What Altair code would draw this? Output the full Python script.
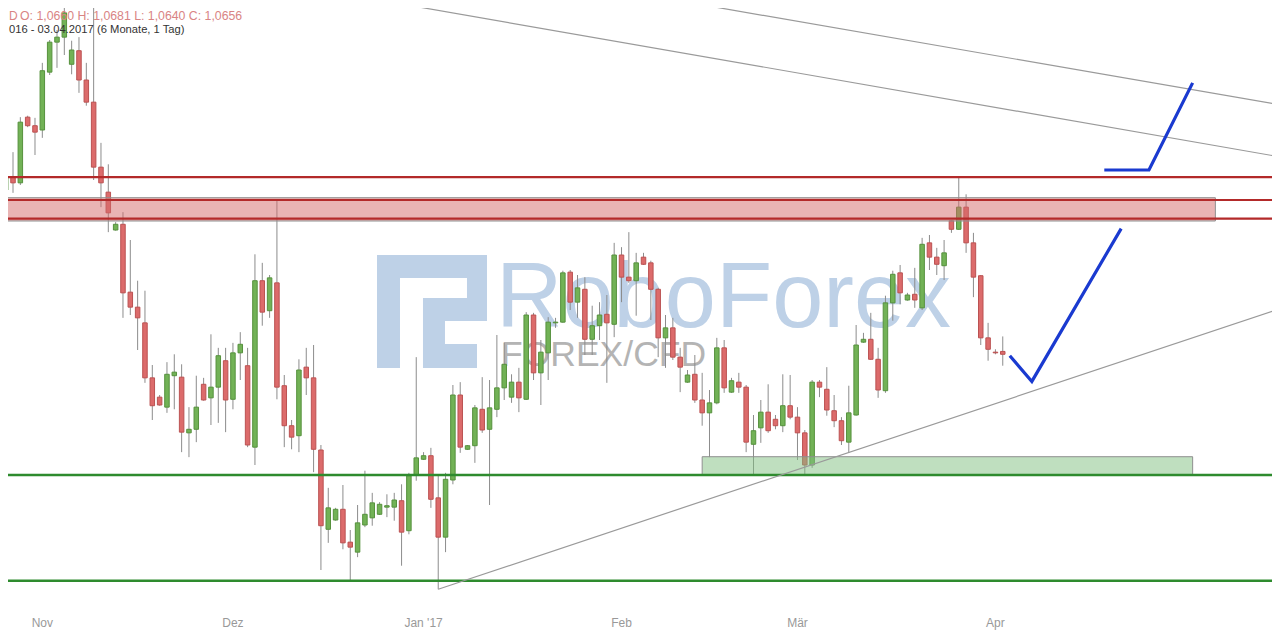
import altair as alt
import pandas as pd

# ---- daily EUR/USD candles (index 0 = first visible candle, Sunday candles included) ----
opens = [
    1.0886, 1.0904, 1.0896, 1.0988, 1.0976, 1.0970, 1.1051, 1.1093, 1.1100, 1.1062,
    1.1081, 1.1040, 1.1009, 1.0918, 1.0883, 1.0830, 1.0838, 1.0743, 1.0722, 1.0700,
    1.0623, 1.0596, 1.0582, 1.0626, 1.0624, 1.0546, 1.0551, 1.0614, 1.0595, 1.0610,
    1.0647, 1.0593, 1.0658, 1.0640, 1.0526, 1.0759, 1.0717, 1.0756, 1.0612, 1.0556,
    1.0542, 1.0638, 1.0623, 1.0522, 1.0411, 1.0424, 1.0439, 1.0393, 1.0379, 1.0417,
    1.0427, 1.0432, 1.0442, 1.0442, 1.0451, 1.0409, 1.0487, 1.0509, 1.0514, 1.0455,
    1.0400, 1.0480, 1.0599, 1.0523, 1.0528, 1.0579, 1.0551, 1.0579, 1.0609, 1.0596,
    1.0617, 1.0593, 1.0711, 1.0630, 1.0658, 1.0700, 1.0701, 1.0771, 1.0729, 1.0747,
    1.0677, 1.0696, 1.0712, 1.0698, 1.0795, 1.0764, 1.0759, 1.0792, 1.0784, 1.0747,
    1.0679, 1.0693, 1.0652, 1.0617, 1.0628, 1.0592, 1.0574, 1.0588, 1.0665, 1.0603,
    1.0617, 1.0610, 1.0530, 1.0553, 1.0575, 1.0565, 1.0556, 1.0584, 1.0568, 1.0546,
    1.0501, 1.0617, 1.0607, 1.0577, 1.0563, 1.0533, 1.0571, 1.0673, 1.0677, 1.0649,
    1.0605, 1.0728, 1.0770, 1.0732, 1.0740, 1.0721, 1.0812, 1.0792, 1.0780, 1.0843,
    1.0831, 1.0862, 1.0812, 1.0766, 1.0679, 1.0659, 1.0660,
]
highs = [
    1.0945, 1.0939, 1.0988, 1.0990, 1.0987, 1.1064, 1.1096, 1.1110, 1.1148, 1.1095,
    1.1100, 1.1064, 1.1180, 1.0952, 1.0922, 1.0841, 1.0855, 1.0816, 1.0759, 1.0745,
    1.0641, 1.0599, 1.0645, 1.0656, 1.0642, 1.0582, 1.0626, 1.0623, 1.0684, 1.0665,
    1.0665, 1.0672, 1.0687, 1.0665, 1.0796, 1.0784, 1.0767, 1.0873, 1.0627, 1.0564,
    1.0649, 1.0665, 1.0669, 1.0529, 1.0469, 1.0441, 1.0473, 1.0410, 1.0445, 1.0493,
    1.0462, 1.0449, 1.0460, 1.0462, 1.0474, 1.0490, 1.0652, 1.0519, 1.0525, 1.0486,
    1.0490, 1.0613, 1.0617, 1.0529, 1.0585, 1.0624, 1.0620, 1.0683, 1.0672, 1.0628,
    1.0637, 1.0715, 1.0714, 1.0676, 1.0708, 1.0707, 1.0773, 1.0774, 1.0767, 1.0764,
    1.0724, 1.0729, 1.0739, 1.0812, 1.0806, 1.0827, 1.0798, 1.0798, 1.0787, 1.0749,
    1.0711, 1.0707, 1.0665, 1.0634, 1.0655, 1.0630, 1.0606, 1.0679, 1.0676, 1.0623,
    1.0630, 1.0613, 1.0571, 1.0592, 1.0614, 1.0571, 1.0628, 1.0627, 1.0582, 1.0550,
    1.0620, 1.0620, 1.0638, 1.0599, 1.0568, 1.0612, 1.0697, 1.0686, 1.0714, 1.0665,
    1.0738, 1.0773, 1.0781, 1.0742, 1.0777, 1.0819, 1.0823, 1.0805, 1.0816, 1.0844,
    1.0903, 1.0880, 1.0826, 1.0767, 1.0700, 1.0663, 1.0681,
]
lows = [
    1.0882, 1.0882, 1.0893, 1.0974, 1.0935, 1.0959, 1.1047, 1.1057, 1.1075, 1.1048,
    1.1022, 1.1004, 1.0900, 1.0862, 1.0827, 1.0829, 1.0707, 1.0711, 1.0662, 1.0616,
    1.0564, 1.0584, 1.0574, 1.0579, 1.0519, 1.0512, 1.0533, 1.0591, 1.0557, 1.0560,
    1.0547, 1.0579, 1.0620, 1.0526, 1.0501, 1.0696, 1.0707, 1.0593, 1.0526, 1.0523,
    1.0519, 1.0599, 1.0491, 1.0354, 1.0392, 1.0423, 1.0383, 1.0339, 1.0372, 1.0414,
    1.0416, 1.0431, 1.0428, 1.0423, 1.0360, 1.0404, 1.0479, 1.0508, 1.0441, 1.0327,
    1.0379, 1.0474, 1.0518, 1.0522, 1.0504, 1.0546, 1.0445, 1.0568, 1.0592, 1.0588,
    1.0575, 1.0592, 1.0620, 1.0585, 1.0620, 1.0693, 1.0700, 1.0718, 1.0707, 1.0655,
    1.0655, 1.0676, 1.0616, 1.0680, 1.0729, 1.0756, 1.0710, 1.0781, 1.0704, 1.0652,
    1.0637, 1.0648, 1.0603, 1.0616, 1.0588, 1.0556, 1.0512, 1.0586, 1.0602, 1.0602,
    1.0602, 1.0519, 1.0487, 1.0532, 1.0546, 1.0551, 1.0547, 1.0565, 1.0508, 1.0487,
    1.0497, 1.0596, 1.0570, 1.0554, 1.0529, 1.0518, 1.0570, 1.0672, 1.0648, 1.0595,
    1.0602, 1.0703, 1.0726, 1.0731, 1.0721, 1.0718, 1.0774, 1.0767, 1.0760, 1.0826,
    1.0830, 1.0798, 1.0736, 1.0669, 1.0647, 1.0656, 1.0640,
]
closes = [
    1.0904, 1.0896, 1.0981, 1.0976, 1.0967, 1.1053, 1.1093, 1.1100, 1.1134, 1.1082,
    1.1040, 1.1009, 1.0918, 1.0896, 1.0854, 1.0838, 1.0742, 1.0722, 1.0707, 1.0623,
    1.0584, 1.0585, 1.0628, 1.0631, 1.0547, 1.0551, 1.0582, 1.0592, 1.0610, 1.0654,
    1.0592, 1.0658, 1.0670, 1.0529, 1.0759, 1.0715, 1.0763, 1.0610, 1.0556, 1.0540,
    1.0634, 1.0623, 1.0523, 1.0416, 1.0441, 1.0439, 1.0392, 1.0386, 1.0420, 1.0432,
    1.0448, 1.0446, 1.0444, 1.0452, 1.0407, 1.0486, 1.0511, 1.0514, 1.0453, 1.0400,
    1.0481, 1.0599, 1.0526, 1.0528, 1.0581, 1.0550, 1.0581, 1.0609, 1.0642, 1.0617,
    1.0595, 1.0711, 1.0630, 1.0659, 1.0701, 1.0701, 1.0770, 1.0729, 1.0749, 1.0677,
    1.0696, 1.0711, 1.0700, 1.0795, 1.0764, 1.0759, 1.0784, 1.0782, 1.0747, 1.0679,
    1.0693, 1.0652, 1.0638, 1.0627, 1.0592, 1.0574, 1.0588, 1.0665, 1.0609, 1.0619,
    1.0610, 1.0533, 1.0549, 1.0575, 1.0549, 1.0556, 1.0584, 1.0568, 1.0546, 1.0501,
    1.0617, 1.0610, 1.0578, 1.0563, 1.0535, 1.0574, 1.0669, 1.0677, 1.0649, 1.0606,
    1.0728, 1.0768, 1.0742, 1.0739, 1.0732, 1.0810, 1.0792, 1.0782, 1.0798, 1.0831,
    1.0862, 1.0812, 1.0764, 1.0679, 1.0663, 1.0658, 1.0656,
]

# ---- axis labels (candle index of each month start) ----
month_labels = ["Nov", "Dez", "Jan '17", "Feb", "Mär", "Apr"]
month_index = [5, 31, 57, 84, 108, 135]

# ---- drawing objects (candle index, price) ----
red_levels = [1.0904, 1.0872, 1.0846]
green_levels = [1.0487, 1.0339]
res_zone_i = [-3.0, 165.0]
res_zone_p = [1.08426, 1.08752]
sup_zone_i = [95.0, 161.9]
sup_zone_p = [1.0487, 1.05126]

trend_names = ["rising", "channel_low", "channel_high"]
trend_i0 = [59.0, 40.0, 80.0]
trend_p0 = [1.0327, 1.11714, 1.11719]
trend_i1 = [180.0, 180.0, 180.0]
trend_p1 = [1.0741, 1.09213, 1.09942]

path_id = ["v", "v", "v", "hook", "hook", "hook"]
path_seq = [0, 1, 2, 0, 1, 2]
path_i = [136.96, 139.97, 152.15, 149.85, 155.94, 161.9]
path_p = [1.0654, 1.0618, 1.0832, 1.0914, 1.0914, 1.1036]

# ---- tables ----
candles = pd.DataFrame({
    "i": list(range(len(opens))),
    "open": opens, "high": highs, "low": lows, "close": closes,
})
months = pd.DataFrame({"i": month_index, "label": month_labels})
res_zone = pd.DataFrame({"i0": [res_zone_i[0]], "i1": [res_zone_i[1]],
                         "lo": [res_zone_p[0]], "hi": [res_zone_p[1]]})
sup_zone = pd.DataFrame({"i0": [sup_zone_i[0]], "i1": [sup_zone_i[1]],
                         "lo": [sup_zone_p[0]], "hi": [sup_zone_p[1]]})
reds = pd.DataFrame({"p": red_levels})
greens = pd.DataFrame({"p": green_levels})
trends = pd.DataFrame({"name": trend_names, "i0": trend_i0, "p0": trend_p0,
                       "i1": trend_i1, "p1": trend_p1})
paths = pd.DataFrame({"id": path_id, "seq": path_seq, "i": path_i, "p": path_p})

W, H = 1264, 624
XS = alt.Scale(domain=[1.0, 1.0 + W / 7.39], nice=False, zero=False)
YS = alt.Scale(domain=[1.02672, 1.11408], nice=False, zero=False)


def X(f):
    return alt.X(f, type="quantitative", scale=XS, axis=None)


def Y(f):
    return alt.Y(f, type="quantitative", scale=YS, axis=None)


one = pd.DataFrame({"a": [0]})

LOGO = ("M-1,-1.027H1V-0.609H-1Z M-1,-1.027H-0.582V1.027H-1Z "
        "M0.636,-1.027H1V0.173H0.636Z M-0.164,-0.245H1V0.173H-0.164Z "
        "M-0.164,-0.245H0.236V1.027H-0.164Z M-0.164,0.59H0.818V1.027H-0.164Z")

logo = alt.Chart(one).mark_point(
    shape=LOGO, size=12100, filled=True, fill="#bed1e7", opacity=1, strokeWidth=0
).encode(x=alt.value(424), y=alt.value(303.5))

wm_text = alt.Chart(one).mark_text(
    text="RoboForex", font="Liberation Sans", fontSize=92, color="#bed1e7",
    align="left", baseline="alphabetic"
).encode(x=alt.value(488), y=alt.value(319))

wm_sub = alt.Chart(one).mark_text(
    text="FOREX/CFD", font="Liberation Sans", fontSize=35.5, color="#b4b4b4",
    align="left", baseline="alphabetic"
).encode(x=alt.value(493), y=alt.value(358))

wicks = alt.Chart(candles).mark_rule(color="#8c8c8c", strokeWidth=1, clip=True).encode(
    x=X("i"), y=Y("low"), y2="high")

up_bodies = alt.Chart(candles).transform_filter(
    alt.datum.close > alt.datum.open
).mark_bar(size=4.5, strokeWidth=1, clip=True, fill="#72b256", stroke="#56913d").encode(
    x=X("i"), y=Y("open"), y2="close")

down_bodies = alt.Chart(candles).transform_filter(
    alt.datum.close <= alt.datum.open
).mark_bar(size=4.5, strokeWidth=1, clip=True, fill="#dc6b6b", stroke="#bb5252").encode(
    x=X("i"), y=Y("open"), y2="close")

res_layer = alt.Chart(res_zone).mark_rect(
    fill="#d46a6a", fillOpacity=0.5, stroke="#8f8f8f", strokeWidth=1, clip=True
).encode(x=X("i0"), x2="i1", y=Y("lo"), y2="hi")

sup_layer = alt.Chart(sup_zone).mark_rect(
    fill="#7fbf7f", fillOpacity=0.5, stroke="#8f8f8f", strokeWidth=1, clip=True
).encode(x=X("i0"), x2="i1", y=Y("lo"), y2="hi")

red_rules = alt.Chart(reds).mark_rule(color="#b32a2a", strokeWidth=2.2, clip=True).encode(y=Y("p"))
green_rules = alt.Chart(greens).mark_rule(color="#2e8b2e", strokeWidth=2.4, clip=True).encode(y=Y("p"))

trend_layer = alt.Chart(trends).mark_rule(color="#9a9a9a", strokeWidth=1.2, clip=True).encode(
    x=X("i0"), x2="i1", y=Y("p0"), y2="p1")

blue = alt.Chart(paths).mark_line(color="#1a3ad0", strokeWidth=3.2, clip=True).encode(
    x=X("i"), y=Y("p"), detail="id:N", order="seq:Q")

month_text = alt.Chart(months).mark_text(
    font="Liberation Sans", fontSize=12, color="#999999", align="center", baseline="bottom"
).encode(x=X("i"), y=alt.value(622), text="label:N")

head0 = alt.Chart(one).mark_text(
    text="D", font="Liberation Sans",
    fontSize=12, color="#d98484", align="left", baseline="alphabetic"
).encode(x=alt.value(1), y=alt.value(11.5))

head1 = alt.Chart(one).mark_text(
    text="O: 1,0660 H: 1,0681 L: 1,0640 C: 1,0656", font="Liberation Sans",
    fontSize=12.3, color="#d98484", align="left", baseline="alphabetic"
).encode(x=alt.value(12), y=alt.value(11.5))

head2 = alt.Chart(one).mark_text(
    text="016 - 03.04.2017", font="Liberation Sans",
    fontSize=11.2, color="#333333", align="left", baseline="alphabetic"
).encode(x=alt.value(1), y=alt.value(24.5))

head3 = alt.Chart(one).mark_text(
    text="(6 Monate, 1 Tag)", font="Liberation Sans",
    fontSize=11.2, color="#333333", align="left", baseline="alphabetic"
).encode(x=alt.value(89), y=alt.value(24.5))

chart = alt.layer(
    logo, wm_text, wm_sub, wicks, up_bodies, down_bodies, res_layer, sup_layer,
    red_rules, green_rules, trend_layer, blue, month_text, head0, head1, head2, head3
).properties(
    width=W, height=H, padding=0, background="white",
    autosize=alt.AutoSizeParams(type="none"),
).configure_view(stroke=None)

chart.save("out.html", embed_options={"renderer": "svg", "actions": False})
